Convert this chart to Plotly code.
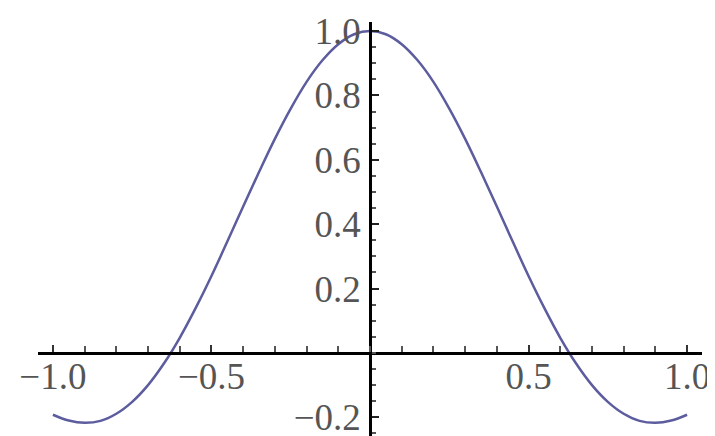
import plotly.graph_objects as go

# -------------------- Data
x_vals = [-1.0, -0.95, -0.9, -0.85, -0.8, -0.75, -0.7, -0.65, -0.6, -0.55,
          -0.5, -0.45, -0.4, -0.35, -0.3, -0.25, -0.2, -0.15, -0.1, -0.05,
          0.0, 0.05, 0.1, 0.15, 0.2, 0.25, 0.3, 0.35, 0.4, 0.45,
          0.5, 0.55, 0.6, 0.65, 0.7, 0.75, 0.8, 0.85, 0.9, 0.95, 1.0]
y_vals = [-0.192, -0.210, -0.217, -0.211, -0.189, -0.152, -0.100, -0.033, 0.047, 0.139,
          0.239, 0.346, 0.455, 0.562, 0.665, 0.759, 0.842, 0.909, 0.959, 0.990,
          1.0, 0.990, 0.959, 0.909, 0.842, 0.759, 0.665, 0.562, 0.455, 0.346,
          0.239, 0.139, 0.047, -0.033, -0.100, -0.152, -0.189, -0.211, -0.217, -0.210, -0.192]

x_ticks = [-1.0, -0.5, 0.5, 1.0]
x_tick_labels = ['\u22121.0', '\u22120.5', '0.5', '1.0']
y_ticks = [-0.2, 0.2, 0.4, 0.6, 0.8, 1.0]
y_tick_labels = ['\u22120.2', '0.2', '0.4', '0.6', '0.8', '1.0']
x_minor = [round(-1.0 + 0.1 * i, 2) for i in range(21)]
y_minor = [round(-0.25 + 0.05 * i, 2) for i in range(26)]

# -------------------- Geometry (axes cross at the origin)
# The page body has an 8px margin, so the figure is drawn 8px in from the
# top-left corner of the window. Size and domains account for that.
OFFSET = 8
WIDTH, HEIGHT = 715 - OFFSET, 436 - OFFSET

x_range = [-1.047, 1.047]
y_range = [-0.258, 1.028]
x_domain = [(38 - OFFSET) / WIDTH, (702 - OFFSET) / WIDTH]
y_domain = [0, 1 - (22 - OFFSET) / HEIGHT]
x_axis_pos = y_domain[0] + (0 - y_range[0]) / (y_range[1] - y_range[0]) * (y_domain[1] - y_domain[0])
y_axis_pos = x_domain[0] + (0 - x_range[0]) / (x_range[1] - x_range[0]) * (x_domain[1] - x_domain[0])

tick_font = dict(family='Liberation Serif', size=37, color='#555555')

fig = go.Figure(go.Scatter(
    x=x_vals,
    y=y_vals,
    mode='lines',
    line=dict(color='#5c5c9e', width=2.5, shape='spline'),
    hoverinfo='skip',
))

fig.update_layout(
    width=WIDTH,
    height=HEIGHT,
    margin=dict(t=0, r=0, b=0, l=0, autoexpand=False),
    paper_bgcolor='white',
    plot_bgcolor='white',
    showlegend=False,
    xaxis=dict(
        range=x_range,
        domain=x_domain,
        anchor='free',
        position=x_axis_pos,
        automargin=False,
        showline=True,
        linecolor='black',
        linewidth=2.5,
        showgrid=False,
        zeroline=False,
        tickvals=x_ticks,
        ticktext=x_tick_labels,
        ticks='inside',
        ticklen=7,
        tickwidth=2,
        tickcolor='#333333',
        ticklabelstandoff=-10,
        ticklabeloverflow='allow',
        tickfont=tick_font,
        minor=dict(tickvals=x_minor, ticks='inside', ticklen=6,
                   tickwidth=2, tickcolor='#555555', showgrid=False),
    ),
    yaxis=dict(
        range=y_range,
        domain=y_domain,
        anchor='free',
        position=y_axis_pos,
        automargin=False,
        showline=True,
        linecolor='black',
        linewidth=2.5,
        showgrid=False,
        zeroline=False,
        tickvals=y_ticks,
        ticktext=y_tick_labels,
        ticks='inside',
        ticklen=7,
        tickwidth=2,
        tickcolor='#222222',
        ticklabelstandoff=1,
        ticklabeloverflow='allow',
        tickfont=tick_font,
        minor=dict(tickvals=y_minor, ticks='inside', ticklen=4,
                   tickwidth=2, tickcolor='#555555', showgrid=False),
    ),
)

fig.write_html('out.html')
